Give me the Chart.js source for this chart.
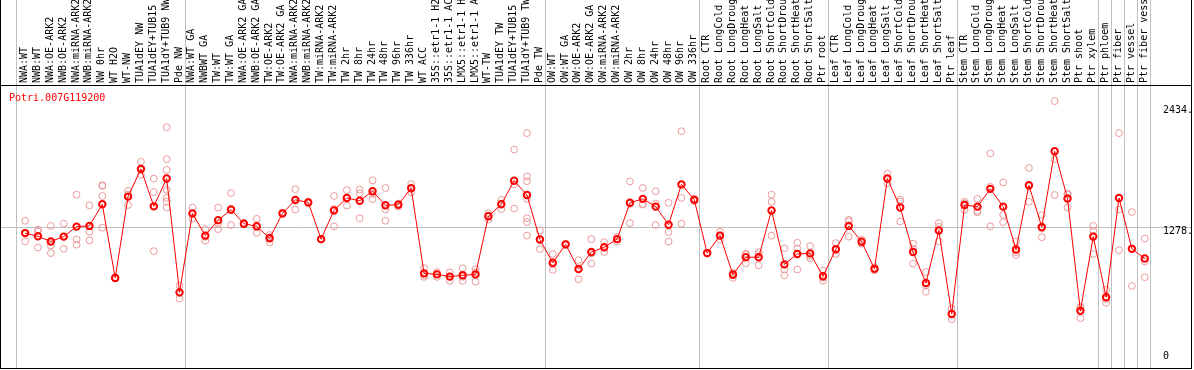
<!DOCTYPE html>
<html>
<head>
<meta charset="utf-8">
<script src="https://cdn.jsdelivr.net/npm/chart.js@4.4.0/dist/chart.umd.min.js"></script>
<style>
  html, body { margin: 0; padding: 0; background: #fff; }
  #wrap { width: 1194px; height: 370px; }
</style>
</head>
<body>
<div id="wrap"><canvas id="chart" width="1194" height="370"></canvas></div>
<script>
const geneName = 'Potri.007G119200';

const samples = [
  'NWA:WT', 'NWB:WT', 'NWA:OE-ARK2', 'NWB:OE-ARK2', 'NWA:miRNA-ARK2', 'NWB:miRNA-ARK2',
  'NW 0hr', 'WT H2O', 'WT-NW', 'TUA1dEY NW', 'TUA1dEY+TUB15 NW', 'TUA1dY+TUB9 NW', 'Pde NW',
  'NWA:WT GA', 'NWBWT GA', 'TW:WT', 'TW:WT GA', 'NWA:OE-ARK2 GA', 'NWB:OE-ARK2 GA',
  'TW:OE-ARK2', 'TW:OE-ARK2 GA', 'NWA:miRNA-ARK2', 'NWB:miRNA-ARK2', 'TW:miRNA-ARK2', 'TW:miRNA-ARK2',
  'TW 2hr', 'TW 8hr', 'TW 24hr', 'TW 48hr', 'TW 96hr', 'TW 336hr', 'WT ACC',
  '35S::etr1-1 H2O', '35S::etr1-1 ACC', 'LMX5::etr1-1 H2O', 'LMX5::etr1-1 ACC',
  'WT-TW', 'TUA1dEY TW', 'TUA1dEY+TUB15 TW', 'TUA1dY+TUB9 TW', 'Pde TW',
  'OW:WT', 'OW:WT GA', 'OW:OE-ARK2', 'OW:OE-ARK2 GA', 'OW:miRNA-ARK2', 'OW:miRNA-ARK2',
  'OW 2hr', 'OW 8hr', 'OW 24hr', 'OW 48hr', 'OW 96hr', 'OW 336hr',
  'Root CTR', 'Root LongCold', 'Root LongDrought', 'Root LongHeat', 'Root LongSalt',
  'Root ShortCold', 'Root ShortDrought', 'Root ShortHeat', 'Root ShortSalt', 'Ptr root',
  'Leaf CTR', 'Leaf LongCold', 'Leaf LongDrought', 'Leaf LongHeat', 'Leaf LongSalt',
  'Leaf ShortCold', 'Leaf ShortDrought', 'Leaf ShortHeat', 'Leaf ShortSalt', 'Ptr leaf',
  'Stem CTR', 'Stem LongCold', 'Stem LongDrought', 'Stem LongHeat', 'Stem LongSalt',
  'Stem ShortCold', 'Stem ShortDrought', 'Stem ShortHeat', 'Stem ShortSalt', 'Ptr shoot',
  'Ptr xylem', 'Ptr phloem', 'Ptr fiber', 'Ptr vessel', 'Ptr fiber vessel'
];

// last sample index of each block (grey separator drawn after it)
const groupEnds = [12, 40, 52, 62, 72, 83, 84, 85, 86, 87];

const means = [
  1217, 1185, 1134, 1182, 1281, 1288, 1502, 773, 1578, 1853, 1482, 1757, 630,
  1412, 1192, 1345, 1450, 1310, 1284, 1166, 1412, 1546, 1521, 1157, 1441, 1565, 1537,
  1632, 1492, 1498, 1661, 818, 808, 786, 799, 808, 1383, 1502, 1735, 1594, 1153,
  923, 1105, 860, 1029, 1077, 1157, 1517, 1556, 1479, 1300, 1699, 1546,
  1019, 1192, 805, 978, 978, 1441, 907, 1010, 1016, 789,
  1058, 1288, 1131, 863, 1757, 1470, 1029, 722, 1243, 416,
  1495, 1479, 1655, 1479, 1054, 1690, 1278, 2028, 1559, 447,
  1182, 582, 1565, 1061, 965
];

const replicates = [
  [1339, 1217, 1134], [1252, 1233, 1073], [1288, 1093, 1019], [1310, 1182, 1061],
  [1597, 1153, 1102], [1492, 1230, 1144], [1693, 1683, 1585, 1271], [780, 770, 768],
  [1636, 1495, 1600], [1923, 1795, 1840], [1757, 1623, 1038],
  [2265, 1949, 1843, 1645, 1565, 1527, 1470], [697, 569, 625],
  [1470, 1361, 1405], [1256, 1141, 1180], [1470, 1256, 1310], [1613, 1297, 1440],
  [1318, 1302, 1310], [1358, 1220, 1275], [1198, 1125, 1175], [1420, 1405, 1412],
  [1652, 1450, 1536], [1530, 1512, 1521], [1160, 1154, 1157], [1585, 1284, 1454],
  [1642, 1489, 1565], [1648, 1610, 1364], [1738, 1553, 1605], [1664, 1450, 1339],
  [1479, 1510, 1505], [1703, 1661, 1620], [869, 783, 802], [831, 783, 810],
  [744, 786, 828], [869, 744, 784], [860, 735, 829], [1412, 1351, 1386],
  [1546, 1454, 1506], [2044, 1460, 1700],
  [2207, 1779, 1731, 1556, 1364, 1326, 1192], [1243, 1058, 1158],
  [1010, 853, 906], [1110, 1100, 1105], [949, 760, 871], [1157, 914, 1016],
  [1128, 1029, 1074], [1182, 1134, 1155], [1728, 1316, 1507], [1664, 1505, 1499],
  [1632, 1297, 1508], [1517, 1227, 1134], [2226, 1565, 1310], [1559, 1533, 1546],
  [1019, 1015, 1023], [1230, 1150, 1196], [773, 820, 822], [1003, 917, 1014],
  [1029, 898, 1007], [1597, 1527, 1192], [1067, 856, 799], [1121, 1064, 856],
  [1089, 968, 991], [847, 744, 776],
  [1118, 1010, 1046], [1348, 1182, 1334], [1150, 1131, 1112], [878, 848, 863],
  [1805, 1709, 1757], [1549, 1332, 1529], [1112, 914, 1061], [831, 636, 699],
  [1316, 1134, 1279], [470, 364, 414],
  [1527, 1511, 1447], [1556, 1438, 1422], [2006, 1284, 1675], [1719, 1396, 1326],
  [1134, 1000, 1028], [1862, 1527, 1681], [1396, 1176, 1262], [2524, 1949, 1594],
  [1607, 1470, 1600], [479, 374, 488],
  [1288, 1240, 1010, 1190], [655, 527, 564], [2207, 1450, 1048], [1425, 693],
  [1163, 936, 780]
];

const yTickValues = [2434, 1278, 0];
const refValue = 1278;

const FONT = "10px 'DejaVu Sans Mono', monospace";
const GRID = '#c0c0c0';

const decor = {
  id: 'decor',
  beforeDraw(chart) {
    const ctx = chart.ctx;
    ctx.save();
    ctx.fillStyle = '#fff';
    ctx.fillRect(0, 0, chart.width, chart.height);
    ctx.restore();
  },
  beforeDatasetsDraw(chart) {
    const ctx = chart.ctx;
    const xs = chart.scales.x, ys = chart.scales.y;
    ctx.save();
    ctx.strokeStyle = GRID;
    ctx.lineWidth = 1;
    // block separators
    const seps = [xs.getPixelForValue(0) - 9.3].concat(groupEnds.map(i => xs.getPixelForValue(i) + 5));
    seps.forEach(px => {
      const x = Math.round(px) + 0.5;
      ctx.beginPath();
      ctx.moveTo(x, 0);
      ctx.lineTo(x, 368);
      ctx.stroke();
    });
    // reference line
    const ry = Math.round(ys.getPixelForValue(refValue)) + 0.5;
    ctx.beginPath();
    ctx.moveTo(1, ry);
    ctx.lineTo(1191, ry);
    ctx.stroke();

    // frame
    ctx.strokeStyle = '#000';
    ctx.beginPath();
    ctx.moveTo(0.5, 0); ctx.lineTo(0.5, 369);
    ctx.moveTo(1191.5, 0); ctx.lineTo(1191.5, 369);
    ctx.moveTo(0, 85.5); ctx.lineTo(1192, 85.5);
    ctx.moveTo(0, 368.5); ctx.lineTo(1192, 368.5);
    ctx.stroke();
    ctx.restore();
  },
  afterDraw(chart) {
    const ctx = chart.ctx;
    const xs = chart.scales.x, ys = chart.scales.y;
    ctx.save();
    ctx.font = FONT;
    ctx.fillStyle = '#000';
    // rotated sample names
    samples.forEach((name, i) => {
      ctx.save();
      ctx.translate(Math.round(xs.getPixelForValue(i)) + 2, 83);
      ctx.rotate(-Math.PI / 2);
      ctx.textAlign = 'left';
      ctx.textBaseline = 'alphabetic';
      ctx.fillText(name, 0, 0);
      ctx.restore();
    });
    // right axis labels
    ctx.textAlign = 'left';
    ctx.textBaseline = 'middle';
    yTickValues.forEach(v => {
      const off = v === refValue ? 4 : 0;
      ctx.fillText(v === 0 ? '0' : v + '.', 1163, ys.getPixelForValue(v) + off);
    });
    // gene title
    ctx.fillStyle = '#ff0000';
    ctx.textBaseline = 'alphabetic';
    ctx.fillText(geneName, 9, 101);
    ctx.restore();
  }
};

const repPoints = [];
replicates.forEach((vals, i) => vals.forEach(v => repPoints.push({ x: i, y: v })));

new Chart(document.getElementById('chart'), {
  type: 'line',
  data: {
    datasets: [
      {
        label: 'mean',
        data: means.map((v, i) => ({ x: i, y: v })),
        borderColor: '#ff0000',
        borderWidth: 1,
        pointRadius: 3.2,
        pointBorderWidth: 2,
        pointBorderColor: '#ff0000',
        pointBackgroundColor: 'rgba(0,0,0,0)',
        tension: 0,
        order: 0
      },
      {
        label: 'replicates',
        type: 'scatter',
        data: repPoints,
        showLine: false,
        pointRadius: 3.4,
        pointBorderWidth: 1,
        pointBorderColor: '#eb9a9a',
        pointBackgroundColor: 'rgba(0,0,0,0)',
        order: 1
      }
    ]
  },
  options: {
    responsive: false,
    animation: false,
    devicePixelRatio: 1,
    events: [],
    layout: { padding: 0 },
    plugins: { legend: { display: false }, tooltip: { enabled: false } },
    scales: {
      x: { type: 'linear', display: false, min: -1.4846, max: 90.3615 },
      y: { type: 'linear', display: false, min: -79.5, max: 3465.9 }
    }
  },
  plugins: [decor]
});
</script>
</body>
</html>
